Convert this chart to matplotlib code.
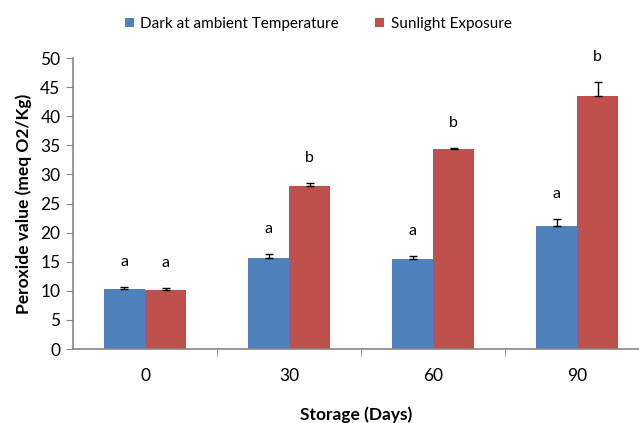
import numpy as np
import matplotlib.pyplot as plt

# =========================
# Data
# =========================
days = ["0", "30", "60", "90"]

dark_mean = [10.3, 15.6, 15.4, 21.2]
dark_err = [0.3, 0.7, 0.5, 1.1]
dark_letters = ["a", "a", "a", "a"]

sun_mean = [10.2, 28.0, 34.3, 43.4]
sun_err = [0.3, 0.6, 0.2, 2.5]
sun_letters = ["a", "b", "b", "b"]

blue = "#4F81BD"
red = "#C0504D"
axis_grey = "#868686"

plt.rcParams['font.family'] = ['Lato', 'DejaVu Sans']

# =========================
# Plot
# =========================
fig = plt.figure(figsize=(6.39, 4.23), dpi=100)
ax = fig.add_axes([73 / 639, 1 - 349 / 423, 566 / 639, 291 / 423])

x = np.arange(len(days))
w = 0.285
ekw = dict(ecolor="black", elinewidth=1.0, capsize=3, capthick=1.0)

ax.bar(x - w / 2, dark_mean, w, color=blue, label="Dark at ambient Temperature",
       yerr=[np.zeros(4), dark_err], error_kw=ekw)
ax.bar(x + w / 2, sun_mean, w, color=red, label="Sunlight Exposure",
       yerr=[np.zeros(4), sun_err], error_kw=ekw)

# significance letters above each bar
for xi, m, e, t in zip(x - w / 2, dark_mean, dark_err, dark_letters):
    ax.annotate(t, (xi, m + e), xytext=(0, 18), textcoords="offset points",
                ha="center", va="center", fontsize=11.5)
for xi, m, e, t in zip(x + w / 2, sun_mean, sun_err, sun_letters):
    ax.annotate(t, (xi, m + e), xytext=(0, 18), textcoords="offset points",
                ha="center", va="center", fontsize=11.5)

ax.set_ylim(0, 50)
ax.set_yticks(np.arange(0, 51, 5))
ax.set_xlim(-0.5, 3.43)
ax.set_xticks(x)
ax.set_xticklabels(days)
ax.set_xticks(np.arange(0.5, 3, 1), minor=True)

for s in ["top", "right"]:
    ax.spines[s].set_visible(False)
for s in ["left", "bottom"]:
    ax.spines[s].set_color(axis_grey)
    ax.spines[s].set_linewidth(1.2)

ax.tick_params(axis="y", length=5, color=axis_grey, labelsize=12.5, pad=4)
ax.tick_params(axis="x", which="major", length=0, labelsize=12.5, pad=14)
ax.tick_params(axis="x", which="minor", length=5, color=axis_grey)

ax.set_ylabel("Peroxide value (meq O2/Kg)", fontsize=12.5, fontweight="bold", labelpad=6)
ax.set_xlabel("Storage (Days)", fontsize=12.5, fontweight="bold", labelpad=16)

ax.legend(loc="upper center", bbox_to_anchor=(0.433, 1 + 55 / 291), ncol=2, frameon=False,
          fontsize=11, handlelength=0.6, handleheight=0.6, handletextpad=0.4, columnspacing=2.4)

plt.savefig("out.png", dpi=100)
plt.close()
